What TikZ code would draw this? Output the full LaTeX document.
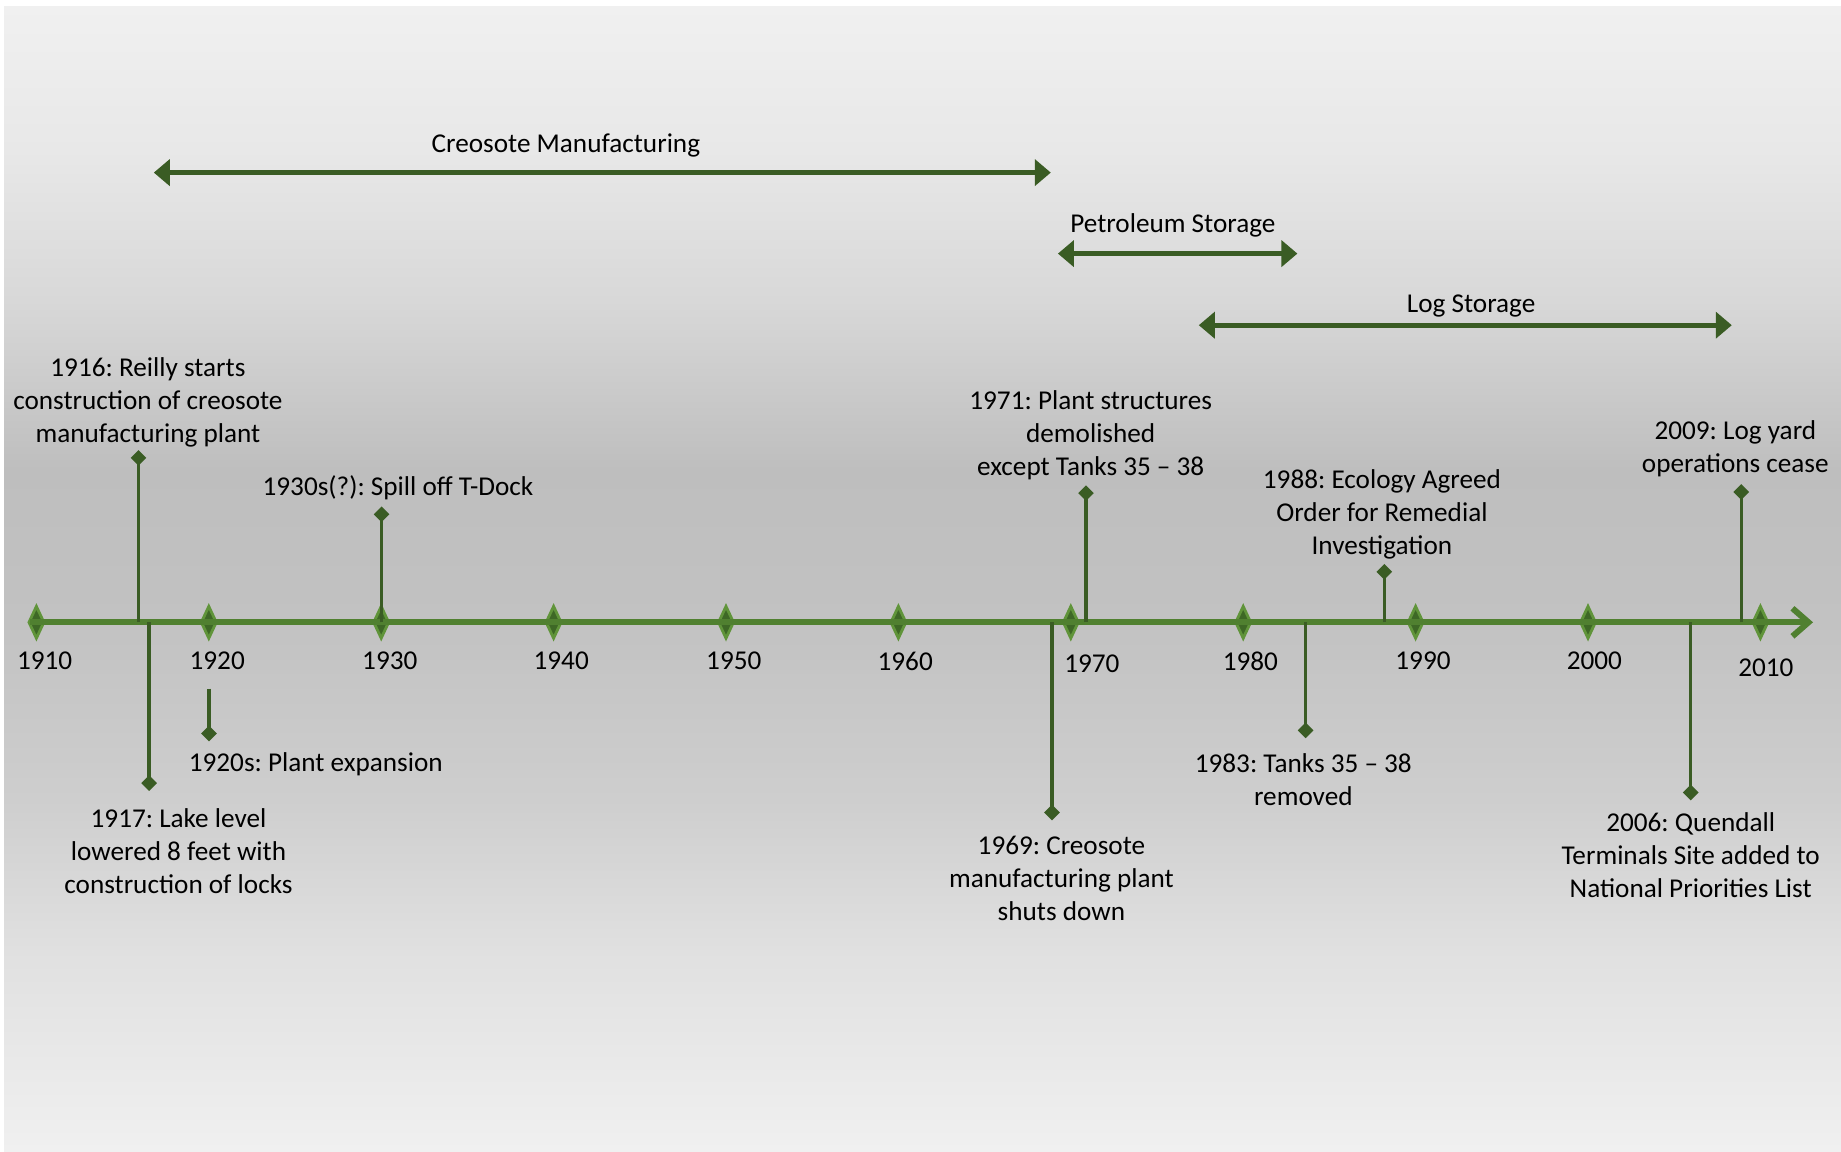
\documentclass[tikz,border=0pt]{standalone}
\usepackage{fontspec}
\setmainfont{Carlito}
\frenchspacing
\usetikzlibrary{arrows.meta,shapes.geometric}
\definecolor{axisgreen}{RGB}{80,128,48}
\definecolor{tickout}{RGB}{96,148,58}
\definecolor{tickin}{RGB}{62,104,38}
\definecolor{darkgreen}{RGB}{58,92,36}
\definecolor{bga}{RGB}{240,240,240}
\definecolor{bgb}{RGB}{232,232,232}
\definecolor{bgc}{RGB}{216,216,216}
\definecolor{bgd}{RGB}{190,190,190}
\definecolor{bge}{RGB}{194,194,194}
\definecolor{bgf}{RGB}{206,206,206}
\definecolor{bgg}{RGB}{224,224,224}
\definecolor{bgh}{RGB}{240,240,240}
\pgfdeclareverticalshading{bgshade}{100bp}{color(0bp)=(bgh); color(25bp)=(bgh); color(33.8bp)=(bgg); color(40.35bp)=(bgf); color(48.1bp)=(bge); color(54.75bp)=(bgd); color(62.15bp)=(bgc); color(68.7bp)=(bgb); color(75bp)=(bga); color(100bp)=(bga)}
\begin{document}
\begin{tikzpicture}[x=0.5pt,y=-0.5pt,
  lbl/.style={font=\fontsize{13.6}{16.5}\selectfont\frenchspacing, align=center, inner sep=0pt, text=black},
  yearlbl/.style={font=\fontsize{13.6}{16.5}\selectfont, inner sep=0pt, text=black},
  tickdiam/.style={diamond, fill=tickin, draw=tickout, line width=1.4pt, minimum width=8pt, minimum height=16.5pt, inner sep=0pt},
  enddiam/.style={diamond, fill=darkgreen, minimum width=8pt, minimum height=8pt, inner sep=0pt},
  stem/.style={draw=darkgreen, line width=1.7pt},
  span/.style={draw=darkgreen, line width=2.5pt, {Triangle[length=8pt,width=13pt]}-{Triangle[length=8pt,width=13pt]}},
  axisline/.style={draw=axisgreen, line width=3pt, -{Straight Barb[length=8pt,width=14pt]}}
]
\useasboundingbox (0,0) rectangle (1841,1151);
\fill[white] (0,0) rectangle (1841,1151);
\shade[shading=bgshade] (4,6) rectangle (1841,1151);

% range arrows
\coordinate (c1) at (153.8,172.6); \coordinate (c2) at (1050.8,172.6);
\draw[span] (c1) -- (c2);
\node[lbl] (lc) at (565.9,145.6) {Creosote Manufacturing};
\coordinate (p1) at (1057.9,253.6); \coordinate (p2) at (1297.4,253.6);
\draw[span] (p1) -- (p2);
\node[lbl] (lp) at (1172.9,225.4) {Petroleum Storage};
\coordinate (g1) at (1198.8,325.2); \coordinate (g2) at (1731.8,325.2);
\draw[span] (g1) -- (g2);
\node[lbl] (lg) at (1471.1,306.4) {Log Storage};

% ticks
\foreach \yr [count=\k from 0] in {1910,1920,...,2010}
  \node[tickdiam] (t\yr) at ({36.4+172.4*\k},622.3) {};

% axis
\coordinate (ax0) at (30,622.3);
\coordinate (ax1) at (1813,622.3);
\draw[axisline] (ax0) -- (ax1);

% year labels
\foreach \yr/\lx/\ly in {1910/44.6/661, 1920/217.2/661, 1930/389.8/661, 1940/561.2/661, 1950/733.8/661, 1960/905.2/661, 1970/1091.9/663.4, 1980/1250.4/661, 1990/1423/661, 2000/1594.4/661, 2010/1765.9/668.1}
  \node[yearlbl] (y\yr) at (\lx,\ly) {\yr};

% events
\coordinate (a1916) at (138.5,622.3);
\node[enddiam] (d1916) at (138.5,457.9) {};
\draw[stem] (a1916) -- (d1916.center);
\node[lbl] (e1916) at (147.9,402.7) {1916: Reilly starts\\construction of creosote\\manufacturing plant};

\coordinate (a1917) at (149.1,622.3);
\node[enddiam] (d1917) at (149.1,783.1) {};
\draw[stem] (a1917) -- (d1917.center);
\node[lbl] (e1917) at (178.5,851.2) {1917: Lake level\\lowered 8 feet with\\construction of locks};

\coordinate (a1920) at (209,688.5);
\node[enddiam] (d1920) at (209,733.5) {};
\draw[stem] (a1920) -- (d1920.center);
\node[lbl] (e1920) at (315.8,764.3) {1920s: Plant expansion};

\coordinate (a1930) at (381.6,622.3);
\node[enddiam] (d1930) at (381.6,514.3) {};
\draw[stem] (a1930) -- (d1930.center);
\node[lbl] (e1930) at (398,487.3) {1930s(?): Spill off T-Dock};

\coordinate (a1969) at (1052,622.3);
\node[enddiam] (d1969) at (1052,812.5) {};
\draw[stem] (a1969) -- (d1969.center);
\node[lbl] (e1969) at (1061.4,878.2) {1969: Creosote\\manufacturing plant\\shuts down};

\coordinate (a1971) at (1086,622.3);
\node[enddiam] (d1971) at (1086,493.1) {};
\draw[stem] (a1971) -- (d1971.center);
\node[lbl] (e1971) at (1090.7,435.6) {1971: Plant structures\\demolished\\except Tanks 35 -- 38};

\coordinate (a1983) at (1305.6,622.3);
\node[enddiam] (d1983) at (1305.6,730.3) {};
\draw[stem] (a1983) -- (d1983.center);
\node[lbl] (e1983) at (1303.3,779.6) {1983: Tanks 35 -- 38\\removed};

\coordinate (a1988) at (1384.3,622.3);
\node[enddiam] (d1988) at (1384.3,571.8) {};
\draw[stem] (a1988) -- (d1988.center);
\node[lbl] (e1988) at (1381.9,514.8) {1988: Ecology Agreed\\Order for Remedial\\Investigation};

\coordinate (a2006) at (1690.7,622.3);
\node[enddiam] (d2006) at (1690.7,792.5) {};
\draw[stem] (a2006) -- (d2006.center);
\node[lbl] (e2006) at (1690.7,855.3) {2006: Quendall\\Terminals Site added to\\National Priorities List};

\coordinate (a2009) at (1741.2,622.3);
\node[enddiam] (d2009) at (1741.2,492) {};
\draw[stem] (a2009) -- (d2009.center);
\node[lbl] (e2009) at (1735.3,448.5) {2009: Log yard\\operations cease};
\end{tikzpicture}
\end{document}
